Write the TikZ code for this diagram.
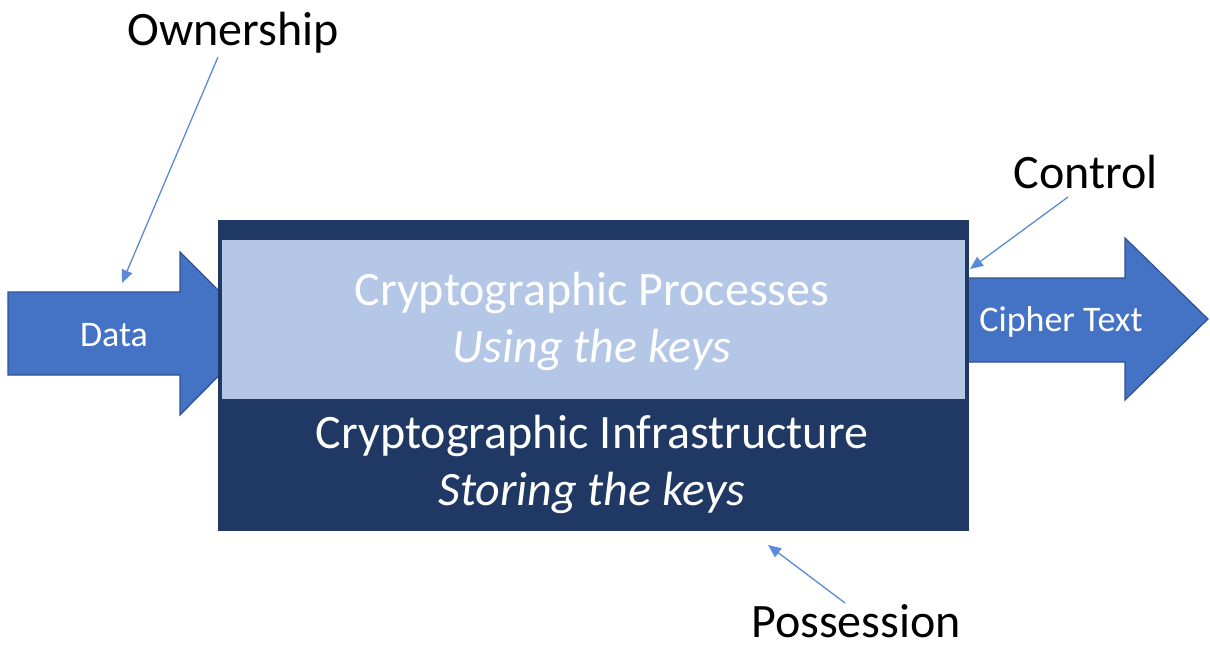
\documentclass[tikz,border=0pt]{standalone}
\usepackage{fontspec}
\setmainfont{Carlito}
\usetikzlibrary{arrows.meta}
\definecolor{arrowblue}{HTML}{4472C4}
\definecolor{arrowedge}{HTML}{2F528F}
\definecolor{navy}{HTML}{203864}
\definecolor{lightblue}{HTML}{B4C7E7}
\definecolor{linkblue}{HTML}{5B8AD6}
\tikzset{
  blockarrow/.style={fill=arrowblue, draw=arrowedge, line width=1.2pt, line join=miter},
  bigtext/.style={text=white, font=\fontsize{48}{56}\selectfont, inner sep=0pt},
  smalltext/.style={text=white, font=\fontsize{36}{42}\selectfont, inner sep=0pt},
  labeltext/.style={text=black, font=\fontsize{48}{56}\selectfont, inner sep=0pt},
  link/.style={draw=linkblue, line width=1.3pt, -{Triangle[length=13pt,width=11pt]}}
}
\begin{document}
\begin{tikzpicture}[x=1pt,y=-1pt]
\useasboundingbox (0,0) rectangle (1210,649);
% Data arrow
\draw[blockarrow] (8,292) -- (180,292) -- (180,252) -- (261,333) -- (180,415) -- (180,375) -- (8,375) -- cycle;
% Cipher text arrow
\draw[blockarrow] (960,278) -- (1125,278) -- (1125,238) -- (1208,319) -- (1125,400) -- (1125,362) -- (960,362) -- cycle;
% main box
\node[fill=navy, draw=navy, minimum width=750pt, minimum height=310pt, inner sep=0pt, anchor=north west] (box) at (218,220) {};
\node[fill=lightblue, draw=navy, line width=0.8pt, minimum width=744pt, minimum height=160pt, inner sep=0pt, anchor=north west] (proc) at (221,239) {};
% texts
\node[bigtext] (proct) at (592,293) {Cryptographic Processes};
\node[bigtext] (procs) at (592,350) {\itshape Using the keys};
\node[bigtext] (inft) at (592,436) {Cryptographic Infrastructure};
\node[bigtext] (infs) at (592,493) {\itshape Storing the keys};
\node[smalltext] (data) at (114,335) {Data};
\node[smalltext] (cipher) at (1061,322) {Cipher Text};
% labels
\node[labeltext] (own) at (233,33) {Ownership};
\node[labeltext] (ctrl) at (1086,172) {Control};
\node[labeltext] (poss) at (856,621) {Possession};
\coordinate (ownT) at (122,283);
\coordinate (ctrlT) at (970,269);
\coordinate (possT) at (768,545);
\draw[link] (218,57) -- (ownT);
\draw[link] (1068,197) -- (ctrlT);
\draw[link] (845,603) -- (possT);
\end{tikzpicture}
\end{document}
